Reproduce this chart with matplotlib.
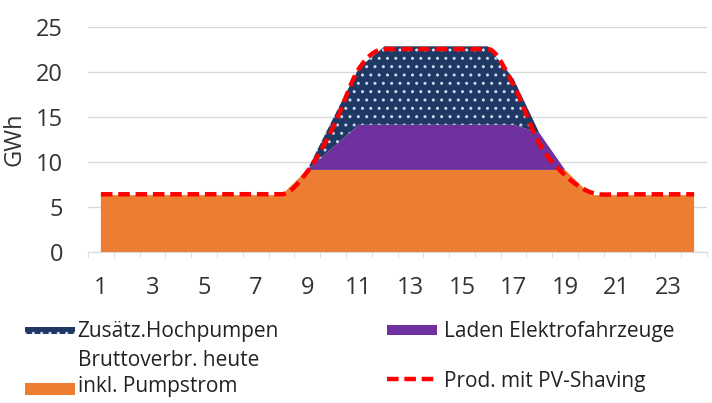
import numpy as np
import matplotlib
matplotlib.use("Agg")
from matplotlib import pyplot as plt
from matplotlib.patches import Patch, Rectangle
from matplotlib.lines import Line2D
from matplotlib.legend_handler import HandlerPatch

plt.rcParams['font.family'] = ['Open Sans', 'DejaVu Sans']

hours = list(range(1, 25))
brutto = [6.3, 6.3, 6.3, 6.3, 6.3, 6.3, 6.3, 6.3, 9.1, 9.1, 9.1, 9.1,
          9.1, 9.1, 9.1, 9.1, 9.1, 9.1, 9.1, 6.3, 6.3, 6.3, 6.3, 6.3]
laden_ev = [0, 0, 0, 0, 0, 0, 0, 0, 0, 2.5, 5.0, 5.0,
            5.0, 5.0, 5.0, 5.0, 5.0, 4.1, 0, 0, 0, 0, 0, 0]
hochpumpen = [0, 0, 0, 0, 0, 0, 0, 0, 0, 3.2, 6.3, 8.7,
              8.7, 8.7, 8.7, 8.7, 5.1, 0, 0, 0, 0, 0, 0, 0]
prod_pv = [6.4, 6.4, 6.4, 6.4, 6.4, 6.4, 6.4, 6.4, 8.9, 13.8, 20.3, 22.5,
           22.5, 22.5, 22.5, 22.5, 18.5, 12.0, 8.5, 6.6, 6.4, 6.4, 6.4, 6.4]
xtick_labels = ['1', '3', '5', '7', '9', '11', '13', '15', '17', '19', '21', '23']

c_orange = '#ED7D31'
c_purple = '#7030A0'
c_navy = '#203864'
c_red = '#FF0000'
c_dots = '#C9D9EE'


def smooth(x, y, n=20):
    # smoothed line through the points, tangents flattened at turning points
    x = np.asarray(x, float)
    y = np.asarray(y, float)
    d = np.diff(y)
    m = np.zeros_like(y)
    for i in range(1, len(y) - 1):
        if d[i - 1] * d[i] > 0:
            m[i] = (y[i + 1] - y[i - 1]) / 2
    xs, ys = [], []
    t = np.linspace(0, 1, n)
    for i in range(len(y) - 1):
        h00 = 2 * t**3 - 3 * t**2 + 1
        h10 = t**3 - 2 * t**2 + t
        h01 = -2 * t**3 + 3 * t**2
        h11 = t**3 - t**2
        xs.extend(x[i] + t * (x[i + 1] - x[i]))
        ys.extend(h00 * y[i] + h10 * m[i] + h01 * y[i + 1] + h11 * m[i + 1])
    return xs, ys


def box_handler(frac, shift=0.0):
    def make(legend, orig_handle, xdescent, ydescent, width, height, fontsize):
        hh = frac * fontsize
        y0 = -ydescent + (height - hh) / 2 - shift
        return Rectangle((-xdescent, y0), width, hh)
    return HandlerPatch(patch_func=make)


fig = plt.figure(figsize=(7.12, 4.03), dpi=100)
ax = fig.add_axes([88 / 712, 151 / 403, 619 / 712, 225.5 / 403])

b = np.array(brutto)
e = b + np.array(laden_ev)
p = e + np.array(hochpumpen)
ax.fill_between(hours, 0, b, facecolor=c_orange, linewidth=0, zorder=2)
ax.fill_between(hours, b, e, facecolor=c_purple, linewidth=0, zorder=2)
ax.fill_between(hours, e, p, facecolor=c_navy, edgecolor=c_dots,
                hatch='..', linewidth=0, zorder=2)
sx, sy = smooth(hours, prod_pv)
ax.plot(sx, sy, color=c_red, lw=3.2, dashes=(2.6, 1.3),
        solid_capstyle='butt', zorder=3)

ax.set_xlim(0.5, 24.5)
ax.set_ylim(0, 25)
ax.set_yticks(range(0, 26, 5))
ax.set_xticks(hours[::2])
ax.set_xticklabels(xtick_labels)
ax.set_xticks(np.arange(0.5, 25, 1), minor=True)
ax.grid(axis='y', color='#D9D9D9', lw=1, zorder=0)
for s in ['left', 'right', 'top']:
    ax.spines[s].set_visible(False)
ax.spines['bottom'].set_color('#D9D9D9')
ax.tick_params(axis='x', which='major', length=0, pad=17, labelsize=17,
               labelcolor='#333333')
ax.tick_params(axis='x', which='minor', length=4, color='#D9D9D9')
ax.tick_params(axis='y', length=0, pad=18, labelsize=17, labelcolor='#333333')
ax.set_ylabel('GWh', fontsize=17, color='#333333')
ax.yaxis.set_label_coords(-0.099, 0.5)

h_pump = Patch(facecolor=c_navy, edgecolor=c_dots, hatch='..', linewidth=0)
h_brutto = Patch(facecolor=c_orange, linewidth=0)
h_ev = Patch(facecolor=c_purple, linewidth=0)
h_prod = Line2D([0], [0], color=c_red, lw=3.2, dashes=(2.6, 1.3))

leg1 = fig.legend([h_pump, h_brutto],
                  ['Zusätz.Hochpumpen', 'Bruttoverbr. heute\ninkl. Pumpstrom'],
                  loc='upper left', bbox_to_anchor=(15 / 712, 1 - 311 / 403),
                  frameon=False, fontsize=15, handlelength=2.4,
                  handletextpad=0.1, labelspacing=0.35, borderpad=0,
                  handler_map={h_pump: box_handler(0.33),
                               h_brutto: box_handler(0.58, shift=11)})
for t in leg1.get_texts():
    t.set_linespacing(1.3)
    t.set_color('#222222')
leg2 = fig.legend([h_ev, h_prod],
                  ['Laden Elektrofahrzeuge', 'Prod. mit PV-Shaving'],
                  loc='upper left', bbox_to_anchor=(377 / 712, 1 - 311 / 403),
                  frameon=False, fontsize=15, handlelength=2.4,
                  handletextpad=0.3, labelspacing=1.35, borderpad=0,
                  handler_map={h_ev: box_handler(0.48)})
for t in leg2.get_texts():
    t.set_color('#222222')

fig.savefig('out.png', dpi=100)
